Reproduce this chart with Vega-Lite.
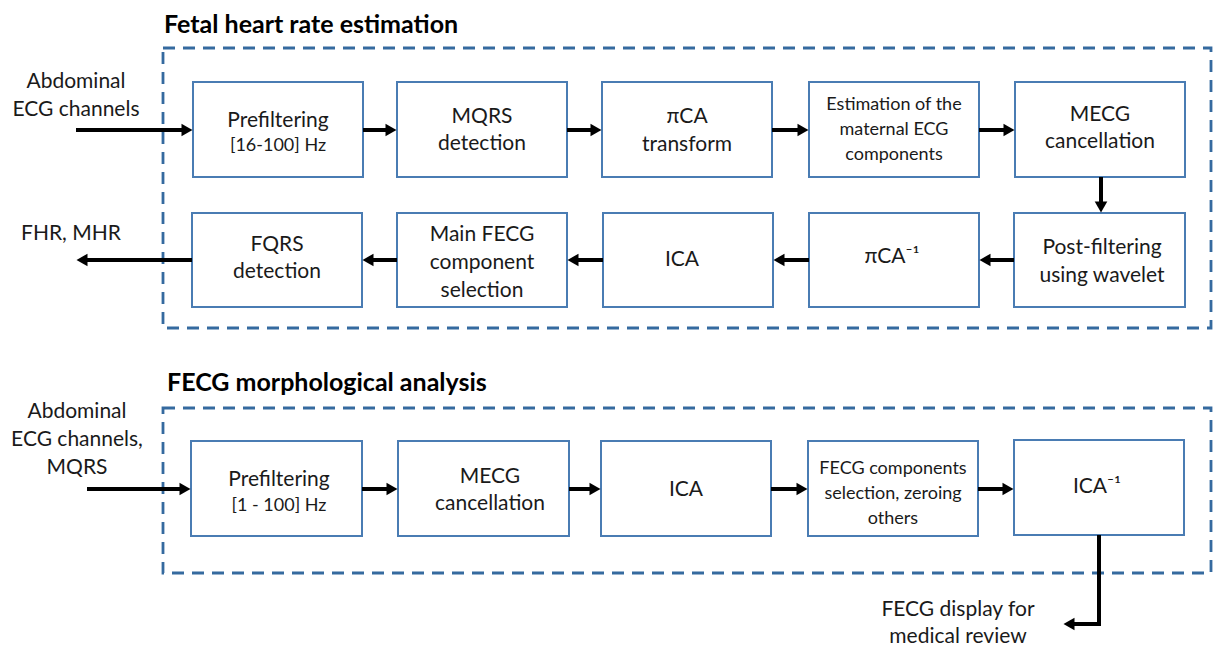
{
  "$schema": "https://vega.github.io/schema/vega-lite/v6.json",
  "width": 1213,
  "height": 646,
  "padding": 0,
  "autosize": {"type": "none"},
  "background": "white",
  "config": {"view": {"stroke": null}, "axis": {"disable": true}},
  "datasets": {
    "containers": [
      {"x1": 163, "x2": 1211, "y1": 48, "y2": 328},
      {"x1": 163, "x2": 1211, "y1": 408, "y2": 573}
    ],
    "boxes": [
      {"x1": 193, "x2": 363, "y1": 82, "y2": 177},
      {"x1": 397, "x2": 567, "y1": 82, "y2": 177},
      {"x1": 602, "x2": 772, "y1": 82, "y2": 177},
      {"x1": 809, "x2": 979, "y1": 82, "y2": 177},
      {"x1": 1015, "x2": 1185, "y1": 82, "y2": 177},
      {"x1": 192, "x2": 362, "y1": 213, "y2": 307},
      {"x1": 397, "x2": 567, "y1": 213, "y2": 307},
      {"x1": 603, "x2": 773, "y1": 213, "y2": 307},
      {"x1": 809, "x2": 979, "y1": 213, "y2": 307},
      {"x1": 1014, "x2": 1185, "y1": 213, "y2": 307},
      {"x1": 191, "x2": 362, "y1": 441, "y2": 536},
      {"x1": 398, "x2": 569, "y1": 441, "y2": 536},
      {"x1": 601, "x2": 771, "y1": 441, "y2": 536},
      {"x1": 808, "x2": 978, "y1": 441, "y2": 536},
      {"x1": 1014, "x2": 1184, "y1": 440, "y2": 535}
    ],
    "lines": [
      {"x1": 76, "x2": 186, "y1": 130, "y2": 130},
      {"x1": 363, "x2": 390, "y1": 130, "y2": 130},
      {"x1": 567, "x2": 595, "y1": 130, "y2": 130},
      {"x1": 772, "x2": 802, "y1": 130, "y2": 130},
      {"x1": 979, "x2": 1008, "y1": 130, "y2": 130},
      {"x1": 1101, "x2": 1101, "y1": 177, "y2": 206},
      {"x1": 1014, "x2": 986, "y1": 260, "y2": 260},
      {"x1": 809, "x2": 780, "y1": 260, "y2": 260},
      {"x1": 603, "x2": 574, "y1": 260, "y2": 260},
      {"x1": 397, "x2": 369, "y1": 260, "y2": 260},
      {"x1": 192, "x2": 83, "y1": 260, "y2": 260},
      {"x1": 87, "x2": 184, "y1": 489, "y2": 489},
      {"x1": 362, "x2": 391, "y1": 489, "y2": 489},
      {"x1": 569, "x2": 594, "y1": 489, "y2": 489},
      {"x1": 771, "x2": 801, "y1": 489, "y2": 489},
      {"x1": 978, "x2": 1007, "y1": 489, "y2": 489},
      {"x1": 1099, "x2": 1099, "y1": 535, "y2": 626},
      {"x1": 1101, "x2": 1070, "y1": 624, "y2": 624}
    ],
    "heads": [
      {"x": 187, "y": 130, "dir": "triangle-right"},
      {"x": 391, "y": 130, "dir": "triangle-right"},
      {"x": 596, "y": 130, "dir": "triangle-right"},
      {"x": 803, "y": 130, "dir": "triangle-right"},
      {"x": 1009, "y": 130, "dir": "triangle-right"},
      {"x": 1101, "y": 207, "dir": "triangle-down"},
      {"x": 985, "y": 260, "dir": "triangle-left"},
      {"x": 779, "y": 260, "dir": "triangle-left"},
      {"x": 573, "y": 260, "dir": "triangle-left"},
      {"x": 368, "y": 260, "dir": "triangle-left"},
      {"x": 82, "y": 260, "dir": "triangle-left"},
      {"x": 185, "y": 489, "dir": "triangle-right"},
      {"x": 392, "y": 489, "dir": "triangle-right"},
      {"x": 595, "y": 489, "dir": "triangle-right"},
      {"x": 802, "y": 489, "dir": "triangle-right"},
      {"x": 1008, "y": 489, "dir": "triangle-right"},
      {"x": 1069, "y": 624, "dir": "triangle-left"}
    ],
    "labels": [
      {"t": "Prefiltering", "x": 278, "y": 121, "k": "big"},
      {"t": "[16-100] Hz", "x": 278, "y": 146, "k": "small"},
      {"t": "MQRS", "x": 482, "y": 117, "k": "big"},
      {"t": "detection", "x": 482, "y": 144, "k": "big"},
      {"t": "πCA", "x": 687, "y": 117, "k": "big"},
      {"t": "transform", "x": 687, "y": 145, "k": "big"},
      {"t": "Estimation of the", "x": 894, "y": 105, "k": "small"},
      {"t": "maternal ECG", "x": 894, "y": 130, "k": "small"},
      {"t": "components", "x": 894, "y": 155, "k": "small"},
      {"t": "MECG", "x": 1100, "y": 115, "k": "big"},
      {"t": "cancellation", "x": 1100, "y": 142, "k": "big"},
      {"t": "FQRS", "x": 277, "y": 245, "k": "big"},
      {"t": "detection", "x": 277, "y": 272, "k": "big"},
      {"t": "Main FECG", "x": 482, "y": 235, "k": "big"},
      {"t": "component", "x": 482, "y": 263, "k": "big"},
      {"t": "selection", "x": 482, "y": 291, "k": "big"},
      {"t": "ICA", "x": 682, "y": 260, "k": "big"},
      {"t": "πCA⁻¹", "x": 892, "y": 257, "k": "big"},
      {"t": "Post-filtering", "x": 1102, "y": 248, "k": "big"},
      {"t": "using wavelet", "x": 1102, "y": 276, "k": "big"},
      {"t": "Prefiltering", "x": 279, "y": 480, "k": "big"},
      {"t": "[1 - 100] Hz", "x": 279, "y": 506, "k": "small"},
      {"t": "MECG", "x": 490, "y": 477, "k": "big"},
      {"t": "cancellation", "x": 490, "y": 504, "k": "big"},
      {"t": "ICA", "x": 686, "y": 490, "k": "big"},
      {"t": "FECG components", "x": 893, "y": 469, "k": "small"},
      {"t": "selection, zeroing", "x": 893, "y": 494, "k": "small"},
      {"t": "others", "x": 893, "y": 519, "k": "small"},
      {"t": "ICA⁻¹", "x": 1097, "y": 487, "k": "big"},
      {"t": "Abdominal", "x": 76, "y": 82, "k": "big"},
      {"t": "ECG channels", "x": 76, "y": 110, "k": "big"},
      {"t": "FHR, MHR", "x": 71, "y": 234, "k": "big"},
      {"t": "Abdominal", "x": 77, "y": 412, "k": "big"},
      {"t": "ECG channels,", "x": 77, "y": 440, "k": "big"},
      {"t": "MQRS", "x": 77, "y": 468, "k": "big"},
      {"t": "FECG display for", "x": 958, "y": 610, "k": "big"},
      {"t": "medical review", "x": 958, "y": 637, "k": "big"}
    ],
    "titles": [
      {"t": "Fetal heart rate estimation", "x": 164, "y": 25},
      {"t": "FECG morphological analysis", "x": 167, "y": 383}
    ]
  },
  "layer": [
    {
      "data": {"name": "containers"},
      "mark": {"type": "rect", "fill": null, "fillOpacity": 0, "stroke": "#356a9f", "strokeWidth": 2.8, "strokeDash": [12, 8]},
      "encoding": {
        "x": {"field": "x1", "type": "quantitative", "scale": {"domain": [0, 1213], "nice": false, "zero": false}, "axis": null},
        "x2": {"field": "x2"},
        "y": {"field": "y1", "type": "quantitative", "scale": {"domain": [646, 0], "nice": false, "zero": false}, "axis": null},
        "y2": {"field": "y2"}
      }
    },
    {
      "data": {"name": "boxes"},
      "mark": {"type": "rect", "fill": "white", "stroke": "#4a7cb3", "strokeWidth": 2},
      "encoding": {
        "x": {"field": "x1", "type": "quantitative"},
        "x2": {"field": "x2"},
        "y": {"field": "y1", "type": "quantitative"},
        "y2": {"field": "y2"}
      }
    },
    {
      "data": {"name": "lines"},
      "mark": {"type": "rule", "stroke": "black", "strokeWidth": 4},
      "encoding": {
        "x": {"field": "x1", "type": "quantitative"},
        "x2": {"field": "x2"},
        "y": {"field": "y1", "type": "quantitative"},
        "y2": {"field": "y2"}
      }
    },
    {
      "data": {"name": "heads"},
      "mark": {"type": "point", "filled": true, "color": "black", "opacity": 1, "size": 160, "strokeWidth": 0},
      "encoding": {
        "x": {"field": "x", "type": "quantitative"},
        "y": {"field": "y", "type": "quantitative"},
        "shape": {"field": "dir", "type": "nominal", "scale": null, "legend": null}
      }
    },
    {
      "data": {"name": "labels"},
      "mark": {"type": "text", "align": "center", "baseline": "middle", "font": "Liberation Sans Narrow, Lato, sans-serif", "color": "#1a1a1a"},
      "encoding": {
        "x": {"field": "x", "type": "quantitative"},
        "y": {"field": "y", "type": "quantitative"},
        "text": {"field": "t"},
        "size": {"field": "k", "type": "nominal", "scale": {"domain": ["big", "small"], "range": [21, 18]}, "legend": null}
      }
    },
    {
      "data": {"name": "titles"},
      "mark": {"type": "text", "align": "left", "baseline": "middle", "font": "Liberation Sans Narrow, Lato, sans-serif", "fontWeight": "bold", "fontSize": 25, "color": "black"},
      "encoding": {
        "x": {"field": "x", "type": "quantitative"},
        "y": {"field": "y", "type": "quantitative"},
        "text": {"field": "t"}
      }
    }
  ]
}
